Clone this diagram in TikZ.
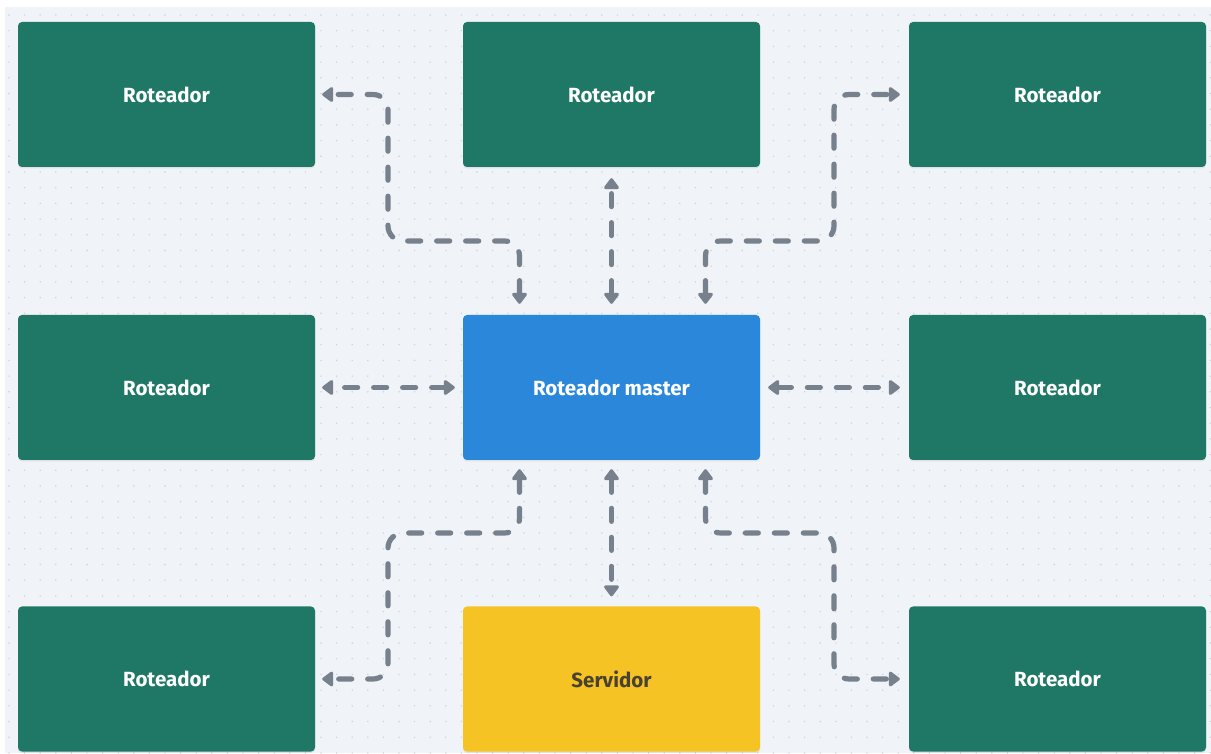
\documentclass[tikz,border=0pt]{standalone}
\usepackage{fontspec}
\setmainfont{Fira Sans}
\usetikzlibrary{arrows.meta,shadows,calc}
\definecolor{canvas}{HTML}{F0F3F7}
\definecolor{dotc}{HTML}{CDD3DA}
\definecolor{routerc}{HTML}{1F7766}
\definecolor{masterc}{HTML}{2B87DA}
\definecolor{serverc}{HTML}{F6C325}
\definecolor{linkc}{HTML}{77818D}
\definecolor{servertext}{HTML}{4A4230}
\tikzset{
  box/.style={rounded corners=4pt, minimum width=297pt, minimum height=145pt,
    inner sep=0pt, font=\fontsize{20.5}{24}\selectfont\bfseries,
    drop shadow={opacity=0.15, shadow xshift=0pt, shadow yshift=-1.5pt}},
  router/.style={box, fill=routerc, text=white},
  master/.style={box, fill=masterc, text=white},
  server/.style={box, fill=serverc, text=servertext},
  link/.style={draw=linkc, line width=5.2pt, line cap=round,
    dash pattern=on 13pt off 16pt, rounded corners=15pt,
    {Triangle[length=12pt,width=17pt,round]}-{Triangle[length=12pt,width=17pt,round]}},
}
\begin{document}
\begin{tikzpicture}[x=1pt,y=1pt]
  % page and dotted canvas
  \fill[white] (0,0) rectangle (1211,753);
  \useasboundingbox (0,0) rectangle (1211,753);
  \fill[canvas] (5,0) rectangle (1211,746);
  \foreach \i in {0,...,77} {
    \foreach \j in {0,...,47} {
      \fill[dotc] (9+15.6*\i, 738-15.7*\j) circle (0.8pt);
    }
  }
  % boxes
  \node[router] (tl) at (166.5,658.5) {Roteador};
  \node[router] (tc) at (611.5,658.5) {Roteador};
  \node[router] (tr) at (1057.5,658.5) {Roteador};
  \node[router] (ml) at (166.5,365.5) {Roteador};
  \node[master] (m)  at (611.5,365.5) {Roteador master};
  \node[router] (mr) at (1057.5,365.5) {Roteador};
  \node[router] (bl) at (166.5,74) {Roteador};
  \node[server] (s)  at (611.5,74) {Servidor};
  \node[router] (br) at (1057.5,74) {Roteador};
  % routing lanes
  \coordinate (laneL) at (388,512);
  \coordinate (laneR) at (834,512);
  \coordinate (laneBL) at (388,220);
  \coordinate (laneBR) at (834,220);
  % links
  \draw[link] ([xshift=-92pt,yshift=11pt]m.north) |- (laneL) |- ([xshift=7pt]tl.east);
  \draw[link] ([yshift=11pt]m.north) -- ([yshift=-11pt]tc.south);
  \draw[link] ([xshift=94pt,yshift=11pt]m.north) |- (laneR) |- ([xshift=-9pt]tr.west);
  \draw[link] ([xshift=-8pt]m.west) -- ([xshift=7pt]ml.east);
  \draw[link] ([xshift=8pt]m.east) -- ([xshift=-9pt]mr.west);
  \draw[link] ([xshift=-92pt,yshift=-9pt]m.south) |- (laneBL) |- ([xshift=7pt]bl.east);
  \draw[link] ([yshift=-9pt]m.south) -- ([yshift=10pt]s.north);
  \draw[link] ([xshift=94pt,yshift=-9pt]m.south) |- (laneBR) |- ([xshift=-9pt]br.west);
\end{tikzpicture}
\end{document}
